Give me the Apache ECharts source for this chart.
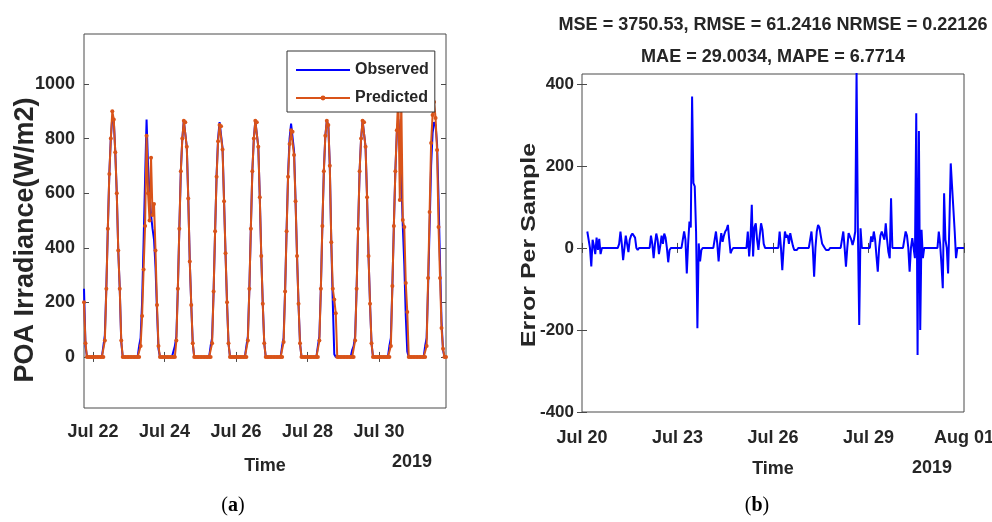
<!DOCTYPE html>
<html>
<head>
<meta charset="utf-8">
<script src="https://cdn.jsdelivr.net/npm/echarts@6/dist/echarts.min.js"></script>
<style>
html,body{margin:0;padding:0;background:#fff;}
#chart{width:992px;height:522px;}
</style>
</head>
<body>
<div id="chart"></div>
<script>
// ---------- DATA ----------
// Panel (a): hourly POA irradiance (W/m2), starting Jul 21 18:00 (day 1.75 counted from Jul 20 00:00)
const leftStartDay = 1.75;
const observed = [
  // Jul 21 18h-23h
  250,40,0,0,0,0,
  // Jul 22
  0,0,0,0,0,0,0,40,80,255,470,670,800,880,865,750,600,390,250,55,0,0,0,0,
  // Jul 23
  0,0,0,0,0,0,0,40,70,200,420,650,870,700,600,520,470,430,330,170,30,0,0,0,
  // Jul 24
  0,0,0,0,0,0,0,40,75,250,470,680,800,865,860,770,580,350,190,50,0,0,0,0,
  // Jul 25
  0,0,0,0,0,0,0,40,70,240,460,665,800,860,855,765,575,380,200,50,0,0,0,0,
  // Jul 26
  0,0,0,0,0,0,0,40,75,250,470,680,800,865,860,770,585,370,195,50,0,0,0,0,
  // Jul 27
  0,0,0,0,0,0,0,40,70,245,465,670,800,855,850,755,575,370,195,50,0,0,0,0,
  // Jul 28
  0,0,0,0,0,0,0,40,75,250,480,680,810,865,850,700,420,200,10,0,0,0,0,0,
  // Jul 29
  0,0,0,0,0,0,25,40,75,250,470,680,800,865,860,770,585,370,195,50,0,0,0,0,
  // Jul 30
  0,0,0,0,0,0,0,40,70,260,480,680,820,870,800,650,480,340,150,20,0,0,0,0,
  // Jul 31 0h-21h
  0,0,0,0,0,0,0,40,70,260,480,700,820,860,850,780,580,340,130,25,0,0
];
const predicted = [
  // Jul 21 18h-23h
  200,50,0,0,0,0,
  // Jul 22
  0,0,0,0,0,0,0,0,60,250,470,670,800,900,870,750,600,390,250,60,0,0,0,0,
  // Jul 23
  0,0,0,0,0,0,0,0,40,150,320,480,810,600,500,730,520,560,390,190,40,0,0,0,
  // Jul 24
  0,0,0,0,0,0,0,0,60,250,470,680,800,865,860,770,580,350,190,50,0,0,0,0,
  // Jul 25
  0,0,0,0,0,0,0,0,50,240,460,660,790,850,845,760,570,380,200,50,0,0,0,0,
  // Jul 26
  0,0,0,0,0,0,0,0,60,250,470,680,800,865,860,770,585,370,195,50,0,0,0,0,
  // Jul 27
  0,0,0,0,0,0,0,0,55,240,460,660,780,830,825,740,570,370,195,50,0,0,0,0,
  // Jul 28
  0,0,0,0,0,0,0,0,60,250,480,680,810,865,850,700,420,250,210,160,0,0,0,0,
  // Jul 29
  0,0,0,0,0,0,0,0,60,250,470,680,800,865,860,770,585,370,195,50,0,0,0,0,
  // Jul 30
  0,0,0,0,0,0,0,0,40,260,480,680,830,960,575,940,502,476,271,165,0,0,0,0,
  // Jul 31 0h-21h
  0,0,0,0,0,0,0,0,40,289,531,784,886,934,875,758,476,289,106,30,0,0
];
const leftTickDays = [2, 4, 6, 8, 10];
const leftTickLabels = ['Jul 22', 'Jul 24', 'Jul 26', 'Jul 28', 'Jul 30'];
const leftYTicks = [0, 200, 400, 600, 800, 1000];

// Panel (b): hourly error per sample, starting Jul 20 04:00
const errStartDay = 4 / 24;
const errorPerSample = [
  // Jul 20 4h-23h
  40,38,0,-45,20,5,-15,25,-5,22,-15,0,0,0,0,0,0,0,0,0,
  // Jul 21
  0,0,0,0,10,40,10,-30,0,30,10,-10,20,30,35,35,25,0,-5,0,0,0,0,0,
  // Jul 22
  0,0,0,0,30,10,-25,10,35,20,-15,5,30,10,35,25,0,-35,-5,0,0,0,0,0,
  // Jul 23
  0,0,0,0,0,40,20,-62,10,64,50,369,158,150,40,-196,11,-33,-5,0,0,0,0,0,
  // Jul 24
  0,0,0,0,0,40,10,-33,10,36,15,30,40,45,56,20,-13,-5,0,0,0,0,0,0,
  // Jul 25
  0,0,0,0,0,40,-21,20,105,-21,50,60,20,-5,30,60,45,10,0,0,0,0,0,0,
  // Jul 26
  0,0,0,0,0,40,0,-54,0,40,25,32,10,36,20,5,-5,-9,-5,0,0,0,0,0,
  // Jul 27
  0,0,0,0,0,40,0,-70,0,40,56,50,30,11,5,0,-5,-9,-5,0,0,0,0,0,
  // Jul 28
  0,0,0,0,0,40,0,-46,0,36,40,20,7,20,40,430,44,-188,48,0,0,0,0,0,
  // Jul 29
  0,0,28,15,40,20,-20,-58,0,30,40,30,20,60,20,-10,-25,121,0,0,0,0,0,0,
  // Jul 30
  0,0,0,0,40,30,0,-58,0,24,20,-25,328,-261,285,-200,44,-25,0,0,0,0,0,0,
  // Jul 31
  0,0,0,0,0,40,10,-40,-98,133,20,0,-62,60,206,150,154,40,-25,0,0,0,0,0,
  // Aug 01 0h
  0
];
const rightTickDays = [0, 3, 6, 9, 12];
const rightTickLabels = ['Jul 20', 'Jul 23', 'Jul 26', 'Jul 29', 'Aug 01'];
const rightYTicks = [-400, -200, 0, 200, 400];

const titleLine1 = 'MSE = 3750.53, RMSE = 61.2416 NRMSE = 0.22126';
const titleLine2 = 'MAE = 29.0034, MAPE = 6.7714';

// ---------- CHART ----------
const FONT = '"Liberation Sans", Arial, sans-serif';
const TXT = '#262626';
const FRAME = '#4a4a4a';

const obsData = observed.map((v, i) => [leftStartDay + i / 24, v]);
const predData = predicted.map((v, i) => [leftStartDay + i / 24, v]);
const errData = errorPerSample.map((v, i) => [errStartDay + i / 24, v]);

function lbl(days, labels) {
  return v => { const k = days.findIndex(d => Math.abs(d - v) < 1e-6); return k >= 0 ? labels[k] : ''; };
}

const labelStyle = { color: TXT, fontWeight: 'bold', fontSize: 18, fontFamily: FONT };
const tickStyle = { inside: true, length: 5, lineStyle: { color: FRAME } };

const chart = echarts.init(document.getElementById('chart'), null, { renderer: 'canvas' });
chart.setOption({
  animation: false,
  backgroundColor: '#fff',
  grid: [
    { left: 84, top: 34, width: 362, height: 374, show: true, borderColor: FRAME, borderWidth: 1,
      backgroundColor: 'transparent', containLabel: false, outerBoundsMode: 'none' },
    { left: 582, top: 74, width: 382, height: 338, show: true, borderColor: FRAME, borderWidth: 1,
      backgroundColor: 'transparent', containLabel: false, outerBoundsMode: 'none' }
  ],
  legend: {
    data: [
      { name: 'Observed', itemStyle: { opacity: 0 } },
      { name: 'Predicted' }
    ],
    orient: 'vertical', left: 287, top: 51,
    padding: [11, 6, 6, 8], itemGap: 12, itemWidth: 54, itemHeight: 6,
    borderColor: '#333', borderWidth: 1, backgroundColor: '#fff',
    textStyle: { color: TXT, fontWeight: 'bold', fontSize: 16, fontFamily: FONT },
    z: 10
  },
  xAxis: [
    { gridIndex: 0, type: 'value', min: 1.75, max: 11.875, position: 'bottom',
      name: 'Time', nameLocation: 'middle', nameGap: 49,
      nameTextStyle: { color: TXT, fontWeight: 'bold', fontSize: 18, fontFamily: FONT },
      axisLine: { show: false }, splitLine: { show: false },
      axisTick: Object.assign({ customValues: leftTickDays }, tickStyle),
      axisLabel: Object.assign({ customValues: leftTickDays, formatter: lbl(leftTickDays, leftTickLabels), margin: 15 }, labelStyle) },
    { gridIndex: 0, type: 'value', min: 1.75, max: 11.875, position: 'top',
      axisLine: { show: false }, splitLine: { show: false }, axisLabel: { show: false },
      axisTick: Object.assign({ customValues: leftTickDays }, tickStyle) },
    { gridIndex: 1, type: 'value', min: 0, max: 12, interval: 3, position: 'bottom',
      name: 'Time', nameLocation: 'middle', nameGap: 48,
      nameTextStyle: { color: TXT, fontWeight: 'bold', fontSize: 18, fontFamily: FONT },
      axisLine: { show: false }, splitLine: { show: false },
      axisTick: Object.assign({ customValues: rightTickDays }, tickStyle),
      axisLabel: Object.assign({ customValues: rightTickDays, formatter: lbl(rightTickDays, rightTickLabels), margin: 17 }, labelStyle) },
    { gridIndex: 1, type: 'value', min: 0, max: 12, interval: 3, position: 'top',
      axisLine: { show: false }, splitLine: { show: false }, axisLabel: { show: false },
      axisTick: Object.assign({ customValues: rightTickDays }, tickStyle) }
  ],
  yAxis: [
    { gridIndex: 0, type: 'value', min: -187, max: 1183, position: 'left',
      axisLine: { show: false }, splitLine: { show: false },
      axisTick: Object.assign({ customValues: leftYTicks }, tickStyle),
      axisLabel: Object.assign({ customValues: leftYTicks, margin: 9, formatter: v => String(v) }, labelStyle) },
    { gridIndex: 0, type: 'value', min: -187, max: 1183, position: 'right',
      axisLine: { show: false }, splitLine: { show: false }, axisLabel: { show: false },
      axisTick: Object.assign({ customValues: leftYTicks }, tickStyle) },
    { gridIndex: 1, type: 'value', min: -400, max: 424, position: 'left',
      axisLine: { show: false }, splitLine: { show: false },
      axisTick: Object.assign({ customValues: rightYTicks }, tickStyle),
      axisLabel: Object.assign({}, labelStyle, { customValues: rightYTicks, margin: 8, fontSize: 17, formatter: v => String(v) }) },
    { gridIndex: 1, type: 'value', min: -400, max: 424, position: 'right',
      axisLine: { show: false }, splitLine: { show: false }, axisLabel: { show: false },
      axisTick: Object.assign({ customValues: rightYTicks }, tickStyle) }
  ],
  series: [
    { name: 'Observed', type: 'line', xAxisIndex: 0, yAxisIndex: 0, data: obsData,
      symbol: 'none', lineStyle: { color: '#0000FF', width: 2 }, itemStyle: { color: '#0000FF' }, z: 2 },
    { name: 'Predicted', type: 'line', xAxisIndex: 0, yAxisIndex: 0, data: predData,
      symbol: 'circle', symbolSize: 4, showSymbol: true, showAllSymbol: true,
      lineStyle: { color: '#D95319', width: 2 }, itemStyle: { color: '#D95319' }, z: 3 },
    { name: 'Error', type: 'line', xAxisIndex: 2, yAxisIndex: 2, data: errData,
      symbol: 'none', lineStyle: { color: '#0000FF', width: 2 }, itemStyle: { color: '#0000FF' } }
  ],
  graphic: [
    { type: 'text', x: 773, y: 25, scaleX: 0.95, style: { text: titleLine1, textAlign: 'center', textVerticalAlign: 'middle', fill: TXT, font: 'bold 19px ' + FONT } },
    { type: 'text', x: 773, y: 57, scaleX: 0.95, style: { text: titleLine2, textAlign: 'center', textVerticalAlign: 'middle', fill: TXT, font: 'bold 19px ' + FONT } },
    { type: 'text', x: 26, y: 240, rotation: Math.PI / 2, style: { text: 'POA Irradiance(W/m2)', textAlign: 'center', textVerticalAlign: 'middle', fill: TXT, font: 'bold 27px ' + FONT } },
    { type: 'text', x: 530, y: 245, rotation: Math.PI / 2, scaleY: 0.78, style: { text: 'Error Per Sample', textAlign: 'center', textVerticalAlign: 'middle', fill: TXT, font: 'bold 25px ' + FONT } },
    { type: 'text', x: 412, y: 462, style: { text: '2019', textAlign: 'center', textVerticalAlign: 'middle', fill: TXT, font: 'bold 18px ' + FONT } },
    { type: 'text', x: 932, y: 468, style: { text: '2019', textAlign: 'center', textVerticalAlign: 'middle', fill: TXT, font: 'bold 18px ' + FONT } },
    { type: 'text', x: 233, y: 506, style: { text: '{p|(}{b|a}{p|)}', textAlign: 'center', textVerticalAlign: 'middle',
        rich: { p: { fontFamily: '"Liberation Serif", serif', fontSize: 20, fill: '#000' }, b: { fontFamily: '"Liberation Serif", serif', fontSize: 20, fontWeight: 'bold', fill: '#000' } } } },
    { type: 'text', x: 757, y: 506, style: { text: '{p|(}{b|b}{p|)}', textAlign: 'center', textVerticalAlign: 'middle',
        rich: { p: { fontFamily: '"Liberation Serif", serif', fontSize: 20, fill: '#000' }, b: { fontFamily: '"Liberation Serif", serif', fontSize: 20, fontWeight: 'bold', fill: '#000' } } } }
  ]
});
</script>
</body>
</html>
